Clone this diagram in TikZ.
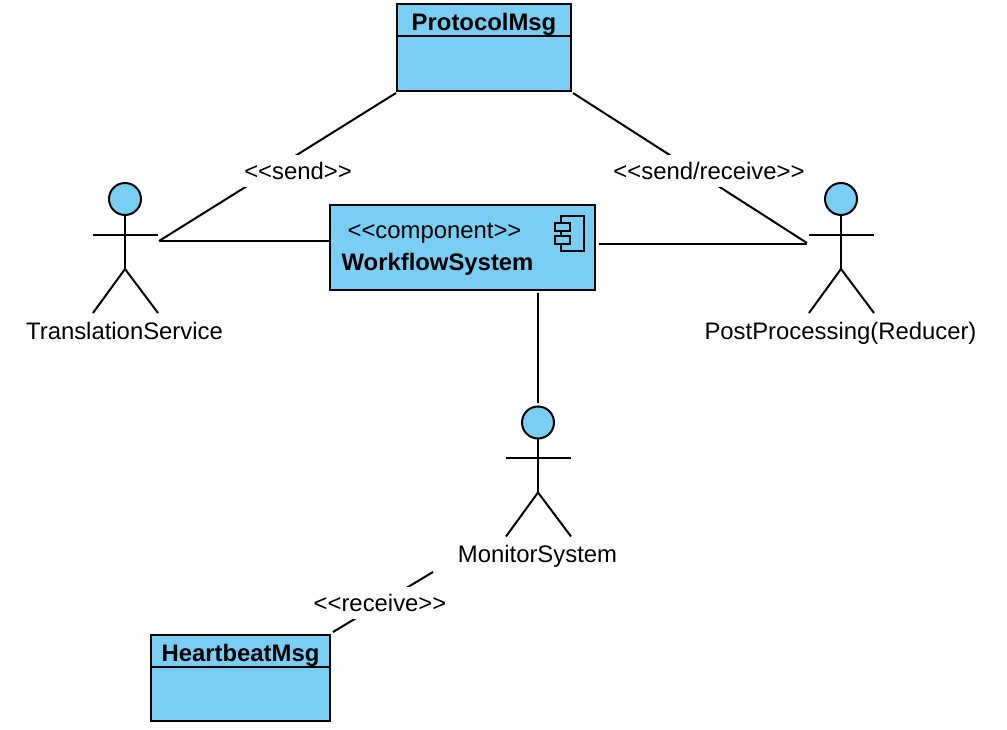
\documentclass[tikz,border=0pt]{standalone}
\usepackage{fontspec}
\setmainfont{Liberation Sans}
\usetikzlibrary{positioning}
\definecolor{umlblue}{HTML}{7ACEF4}
\newcommand{\stereo}[1]{<{}<#1>{}>}
\tikzset{
	uml/.style={draw=black, fill=umlblue, line width=1.5pt, inner sep=0pt, outer sep=0pt},
	classtitle/.style={uml, font=\fontsize{17.9}{20}\selectfont\bfseries, text height=19.5pt, text depth=3.8pt},
	actorhead/.style={uml, circle, minimum size=24pt},
	lbl/.style={font=\fontsize{17.9}{20}\selectfont, inner sep=0pt},
	stereolbl/.style={lbl, fill=white, minimum height=24.5pt},
	link/.style={line width=1.5pt}
}

\begin{document}
\begin{tikzpicture}[x=0.75pt, y=-0.75pt]
		\useasboundingbox (0, 0) rectangle (1007, 730);

		% classes
		\node[classtitle, minimum width=130.5pt, minimum height=24pt] (protocolTitle) at (484, 20) {ProtocolMsg};
		\node[uml, minimum width=130.5pt, minimum height=41pt, below=0pt of protocolTitle] (protocolBody) {};
		\node[classtitle, minimum width=134pt, minimum height=24pt] (heartbeatTitle) at (240.5, 651) {HeartbeatMsg};
		\node[uml, minimum width=134pt, minimum height=40.5pt, below=0pt of heartbeatTitle] (heartbeatBody) {};

		% component
		\node[uml, minimum width=198.5pt, minimum height=63.5pt] (workflow) at (462.5, 247.5) {};
		\node[lbl, anchor=base] (workflowType) at (434.5, 238.5) {\stereo{component}};
		\node[lbl, anchor=base, font=\fontsize{17.9}{20}\selectfont\bfseries] (workflowName) at (437.5, 270.5) {WorkflowSystem};
		\draw[uml] (561, 216) rectangle (584, 251);
		\draw[uml] (555, 223) rectangle (570, 231);
		\draw[uml] (555, 236) rectangle (570, 244);

		% actors
		\foreach \name/\x/\y/\txt in {translation/125/199/TranslationService, post/841/199/{PostProcessing(Reducer)}, monitor/538/422.5/MonitorSystem} {
			\node[actorhead] (\name) at (\x, \y) {};
			\coordinate (\name Hip) at (\x, \y+70);
			\draw[link] (\name.south) -- (\name Hip);
			\draw[link] (\x-32, \y+36) -- (\x+33, \y+36);
			\draw[link] (\x-32, \y+114) -- (\name Hip) -- (\x+33, \y+114);
			\node[lbl, anchor=base] (\name Label) at (\x-0.5, \y+140.5) {\txt};
		}

		% free ends of the connectors
		\coordinate (sendEnd) at (159, 241);
		\coordinate (protoLeft) at (396, 93);
		\coordinate (protoRight) at (573, 93);
		\coordinate (replyEnd) at (807, 243);
		\coordinate (monitorEnd) at (433, 572);
		\coordinate (heartEnd) at (333, 632);

		\draw[link] (protoLeft) -- (sendEnd);
		\draw[link] (protoRight) -- (replyEnd);
		\draw[link] (monitorEnd) -- (heartEnd);
		\draw[link] (sendEnd) -- (329, 241);
		\draw[link] (599, 244) -- (807, 244);
		\draw[link] (538, 293) -- (538, 403);

		\node[stereolbl] (sendLabel) at (298, 171) {\stereo{send}};
		\node[stereolbl] (sendReceiveLabel) at (709, 171) {\stereo{send/receive}};
		\node[stereolbl] (receiveLabel) at (380, 603) {\stereo{receive}};
	\end{tikzpicture}
\end{document}
